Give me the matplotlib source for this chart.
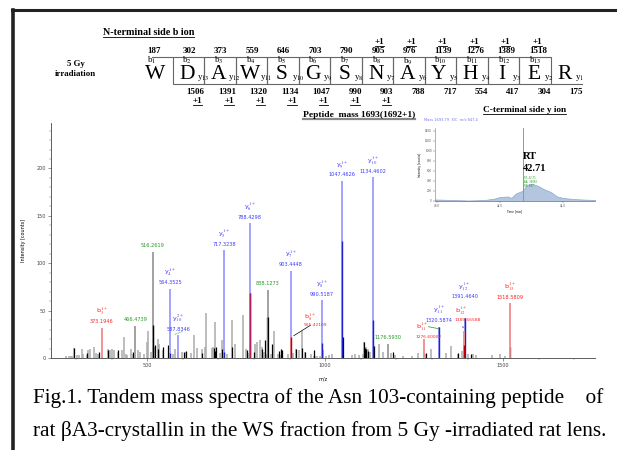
import matplotlib
matplotlib.use('Agg')
import matplotlib.pyplot as plt
from matplotlib.lines import Line2D
from matplotlib.patches import Rectangle
import numpy as np

plt.rcParams['mathtext.fontset'] = 'stix'

W, H = 617, 450

# peptide sequence and fragment masses
sequence = list('WDAWSGSNAYHIER')
b_masses = [187, 302, 373, 559, 646, 703, 790, 905, 976, 1139, 1276, 1389, 1518]
y_masses = [1506, 1391, 1320, 1134, 1047, 990, 903, 788, 717, 554, 417, 304, 175]
b_plus1 = [8, 9, 10, 11, 12, 13]
y_plus1 = [13, 12, 11, 10, 9, 8, 7]

# annotated y ions: m/z, full intensity, dark part, label, charge, index
y_mz = [564.3525, 587.8346, 717.3238, 788.4298, 903.4448, 990.5187,
        1047.4626, 1134.4602, 1320.5874, 1391.4640]
y_int = [73, 24, 114, 142, 92, 61, 187, 191, 33, 42]
y_dark = [5, 0, 6, 69, 0, 16, 123, 40, 33, 42]
y_idx = ['4', '10', '5', '6', '7', '8', '9', '10', '11', '12']
y_chg = ['1+', '2+', '1+', '1+', '1+', '1+', '1+', '1+', '1+', '1+']

# annotated b ions
b_mz = [373.1946, 905.42109, 1276.60002, 1389.56588, 1518.5809]
b_int = [32, 22, 20, 29, 58]

# unassigned labelled peaks
g_mz = [466.4739, 516.2619, 838.1273, 1176.5930]
g_int = [34, 112, 72, 15]

# other peaks (grey) and dark overlays (black)
grey_mz = [272, 281, 286, 290, 296, 303, 308, 316, 321, 330, 335, 340, 350,
           356, 362, 366, 391, 397, 401, 406, 418, 430, 436, 440, 444, 455,
           460, 464, 475, 480, 490, 500, 503, 512, 519, 530, 534, 545, 565,
           572, 578, 588, 598, 610, 624, 631, 641, 653, 662, 666, 681, 686,
           691, 694, 704, 711, 716, 723, 738, 746, 768, 778, 784, 790, 804,
           810, 818, 823, 829, 835, 840, 848, 857, 867, 876, 880, 895, 909,
           918, 927, 936, 944, 960, 968, 972, 976, 985, 995, 1003, 1010, 1020,
           1075, 1085, 1095, 1106, 1110, 1116, 1120, 1126, 1150, 1162, 1185,
           1195, 1220, 1244, 1260, 1280, 1296, 1340, 1354, 1372, 1384, 1402,
           1416, 1425, 1470, 1491, 1505]
grey_int = [2, 2, 2, 2, 11, 3, 3, 9, 4, 3, 8, 9, 12, 5, 4, 3, 9, 8, 9, 8, 6,
            8, 22, 4, 3, 10, 4, 3, 8, 6, 4, 17, 29, 6, 12, 20, 15, 8, 5, 4,
            10, 6, 6, 6, 5, 24, 11, 10, 12, 47, 11, 12, 38, 4, 5, 19, 9, 4,
            40, 15, 45, 10, 5, 6, 15, 17, 19, 12, 6, 4, 5, 4, 29, 4, 3, 6,
            4, 5, 9, 8, 29, 6, 4, 2, 2, 2, 2, 8, 2, 3, 4, 3, 4, 3, 4, 17, 12,
            9, 6, 15, 6, 5, 3, 2, 2, 5, 4, 10, 5, 13, 4, 7, 4, 4, 3, 3, 4, 2]
dark_mz = [296, 330, 366, 391, 418, 460, 516, 522, 530, 545, 559, 603, 610,
           653, 688, 691, 694, 711, 739, 781, 800, 823, 831, 838, 850, 870,
           876, 880, 918, 936, 944, 968, 1050, 1110, 1113, 1116, 1120, 1136,
           1190, 1283, 1372, 1390, 1410, 1520]
dark_int = [11, 5, 6, 8, 8, 6, 35, 14, 10, 12, 14, 6, 7, 5, 11, 7, 12, 10,
            12, 8, 6, 9, 19, 43, 15, 7, 10, 8, 10, 11, 6, 8, 22, 17, 11, 9,
            7, 13, 6, 5, 5, 13, 4, 12]

# extracted ion chromatogram (inset)
rt_time = [39.95, 40.5, 41.0, 41.5, 41.8, 42.0, 42.25, 42.35, 42.5, 42.7,
           42.85, 43.0, 43.2, 43.4, 43.6, 43.8, 44.0, 44.3, 44.6, 45.0]
rt_int = [30, 20, 10, 20, 45, 80, 90, 60, 150, 200, 320, 345, 300, 230,
          180, 90, 60, 40, 30, 20]

BLUE_L = '#9c9cff'
BLUE_D = '#2020d0'
RED_L = '#f08a8a'
RED_D = '#c00000'
GREY_L = '#ababab'
BLUE_T = '#3a3aff'
RED_T = '#ff2020'
GREEN_T = '#229922'


def px(x, y):
    return x / W, 1 - y / H


fig = plt.figure(figsize=(W / 100, H / 100), dpi=100)
fig.patch.set_facecolor('white')

# frame
fig.add_artist(Line2D([12 / W, 1.0], [1 - 10 / H, 1 - 10 / H], color='#222222', lw=2.2))
fig.add_artist(Line2D([13 / W, 13 / W], [0, 1 - 10 / H], color='#222222', lw=2.6))

serif = 'Liberation Serif'
underlines = []


def ftext(x, y, s, size, weight='normal', ha='left', va='baseline', color='black',
          family=serif, underline=False, ul_color='black', ul_lw=0.6):
    t = fig.text(*px(x, y), s, fontsize=size, fontweight=weight, ha=ha, va=va,
                 color=color, family=family)
    if underline:
        underlines.append((t, ul_color, ul_lw))
    return t


ftext(103, 35, 'N-terminal side b ion', 7.3, 'bold', underline=True)
ftext(67, 66, '5 Gy', 6.3, 'bold')
ftext(55, 76, 'irradiation', 6.3, 'bold')
ftext(303, 117, 'Peptide  mass 1693(1692+1)', 6.8, 'bold', underline=True,
      ul_color='#888888', ul_lw=1.6)
ftext(483, 112, 'C-terminal side y ion', 6.7, 'bold', underline=True)
ftext(424, 121, 'Mass 1693.79  XIC  m/z 847.4', 2.6, color='#7777ee', family='DejaVu Sans')

# sequence with fragment boxes
x0, dx = 157, 31.5
box_top, box_bot = 57, 84
for i, aa in enumerate(sequence):
    xc = x0 + i * dx
    ftext(xc - 1.5, 79, aa, 15.5, ha='center')
    if 1 <= i <= 12:
        fig.add_artist(Rectangle(px(xc - dx / 2, box_bot), dx / W, (box_bot - box_top) / H,
                                 fill=False, ec='#666666', lw=0.8))
fig.add_artist(Line2D([px(152, 0)[0], px(x0 + dx / 2, 0)[0]],
                      [1 - box_top / H] * 2, color='#666666', lw=0.8))
fig.add_artist(Line2D([px(x0 + 12.5 * dx, 0)[0], px(582, 0)[0]],
                      [1 - box_bot / H] * 2, color='#666666', lw=0.8))

for i, m in enumerate(b_masses):
    xl = x0 + i * dx - 10 + (4 if i > 0 else 0)
    ftext(xl, 53, str(m), 6.5, 'bold')
    ftext(xl, 63, 'b$_{%d}$' % (i + 1), 6.5)
    if (i + 1) in b_plus1:
        ftext(xl + 8, 44, '+1', 6.5, 'bold', ha='center', underline=True)

for j, m in enumerate(y_masses):
    k = 13 - j  # y index
    xr = x0 + (j + 1) * dx + 16
    ftext(xr, 94, str(m), 6.5, 'bold', ha='right')
    ftext(x0 + (j + 1) * dx + 8.5, 79, 'y$_{%d}$' % k, 6.5)
    if k in y_plus1:
        ftext(xr - 7, 103, '+1', 6.5, 'bold', ha='center', underline=True)

# main spectrum
ax = fig.add_axes([51 / W, 1 - 358 / H, 544 / W, 235 / H])
ax.vlines(grey_mz, 0, grey_int, color=GREY_L, lw=1.1)
ax.vlines(dark_mz, 0, dark_int, color='black', lw=0.9)
ax.vlines(g_mz, 0, g_int, color='#9a9a9a', lw=1.3)
ax.vlines([516.2619, 838.1273], 0, [35, 43], color='black', lw=0.9)
ax.vlines(y_mz, 0, y_int, color=BLUE_L, lw=1.3)
ax.vlines(y_mz, 0, y_dark, color=BLUE_D, lw=1.0)
ax.vlines(b_mz, 0, b_int, color=RED_L, lw=1.3)
ax.vlines([905.42109, 1389.56588], 0, [22, 14], color=RED_D, lw=1.0)
ax.vlines([788.4298], 0, [69], color='#b02060', lw=1.0)

ax.set_xlim(230, 1758)
ax.set_ylim(0, 248)
ax.spines['top'].set_visible(False)
ax.spines['right'].set_visible(False)
for s in ('left', 'bottom'):
    ax.spines[s].set_color('#444444')
    ax.spines[s].set_linewidth(0.6)
ax.set_xticks([500, 1000, 1500])
ax.set_xticks(np.arange(300, 1800, 100), minor=True)
ax.set_yticks([0, 50, 100, 150, 200])
ax.set_yticks(np.arange(0, 250, 10), minor=True)
ax.tick_params(labelsize=3.5, length=2, width=0.4, colors='#444444', pad=1.5)
ax.tick_params(which='minor', length=1.2, width=0.3, colors='#666666')
ax.set_xlabel('m/z', fontsize=3.5, labelpad=6)
ax.set_ylabel('Intensity [counts]', fontsize=3.5, labelpad=8)


def ion_label(x, top, name, num, color, dy=0):
    ax.annotate(num, (x, top), xytext=(0, 2.5 + dy), textcoords='offset points',
                ha='center', va='bottom', fontsize=3.6, color=color)
    ax.annotate(name, (x, top), xytext=(0, 7.5 + dy), textcoords='offset points',
                ha='center', va='bottom', fontsize=4.6, color=color)


for m, it, k, c in zip(y_mz, y_int, y_idx, y_chg):
    if m == 1391.4640:
        continue
    ion_label(m, it, r'y$_{%s}^{\,%s}$' % (k, c), '%.4f' % m, BLUE_T)
ion_label(1391.4640, 42, r'y$_{12}^{\,1+}$', '1391.4640', BLUE_T, dy=11)
ion_label(373.1946, 32, r'b$_{3}^{\,1+}$', '373.1946', RED_T)
ion_label(1518.5809, 58, r'b$_{13}^{\,1+}$', '1518.5809', RED_T)
for m, it in zip(g_mz, g_int):
    ax.annotate('%.4f' % m, (m, it), xytext=(0, 2.5), textcoords='offset points',
                ha='center', va='bottom', fontsize=3.6, color=GREEN_T)

# offset b ion labels with leader lines
ax.annotate('', (905.42109, 22), xytext=(965, 36),
            arrowprops=dict(arrowstyle='-', color='black', lw=0.5))
ax.text(940, 41, r'b$_{8}^{\,1+}$', fontsize=4.6, color=RED_T, ha='left')
ax.text(940, 34, '905.42109', fontsize=3.2, color=RED_T, ha='left')
ax.plot([1290, 1318], [33, 31], color=GREEN_T, lw=0.5)
ax.text(1255, 30, r'b$_{11}^{\,1+}$', fontsize=4.6, color=RED_T, ha='left')
ax.text(1255, 21, '1276.60002', fontsize=3.2, color=RED_T, ha='left')
ax.annotate('', (1389.56588, 29), xytext=(1385, 36),
            arrowprops=dict(arrowstyle='-', color='black', lw=0.5))
ax.text(1364, 47, r'b$_{12}^{\,1+}$', fontsize=4.6, color=RED_T, ha='left')
ax.text(1364, 39, '1389.56588', fontsize=3.2, color=RED_T, ha='left')
ax.plot([578, 600], [25, 28], color=GREEN_T, lw=0.4, ls='--')

# inset chromatogram
ins = fig.add_axes([435 / W, 1 - 201 / H, 160 / W, 73 / H])
ins.fill_between(rt_time, 0, rt_int, color='#b4c6df', ec='#8ea6c8', lw=0.5)
ins.axvline(42.71, color='#f07070', lw=0.7)
ins.set_xlim(39.94, 45.0)
ins.set_ylim(0, 1450)
ins.set_xticks([40, 42, 44])
ins.set_xticklabels(['40.0', '42.0', '44.0'])
ins.set_yticks(np.arange(0, 1600, 200))
ins.tick_params(labelsize=2.0, length=1.2, width=0.3, colors='#555555', pad=1)
for s in ('top', 'right'):
    ins.spines[s].set_visible(False)
for s in ('left', 'bottom'):
    ins.spines[s].set_color('#777777')
    ins.spines[s].set_linewidth(0.4)
ins.set_xlabel('Time [min]', fontsize=2.0, labelpad=1)
ins.set_ylabel('Intensity [counts]', fontsize=2.0, labelpad=2)
ins.text(42.76, 500, 'RT: 42.71\nAA: 35080\nBP: 847', fontsize=1.8, color=GREEN_T,
         va='top', linespacing=1.0)
ftext(523, 159, 'RT', 7.5, 'bold')
ftext(523, 171, '42.71', 7.5, 'bold')

# caption
ftext(33, 403, 'Fig.1. Tandem mass spectra of the Asn 103-containing peptide    of', 15.3)
ftext(33, 436, 'rat \u03b2A3-crystallin in the WS fraction from 5 Gy -irradiated rat lens.', 15.3)

# underlines under marked texts
fig.canvas.draw()
inv = fig.transFigure.inverted()
for t, col, lw in underlines:
    bb = t.get_window_extent()
    (xa, ya), (xb, _) = inv.transform([(bb.x0, bb.y0), (bb.x1, bb.y0)])
    fig.add_artist(Line2D([xa, xb], [ya - 0.001, ya - 0.001], color=col, lw=lw))

fig.savefig('out.png', dpi=100)
